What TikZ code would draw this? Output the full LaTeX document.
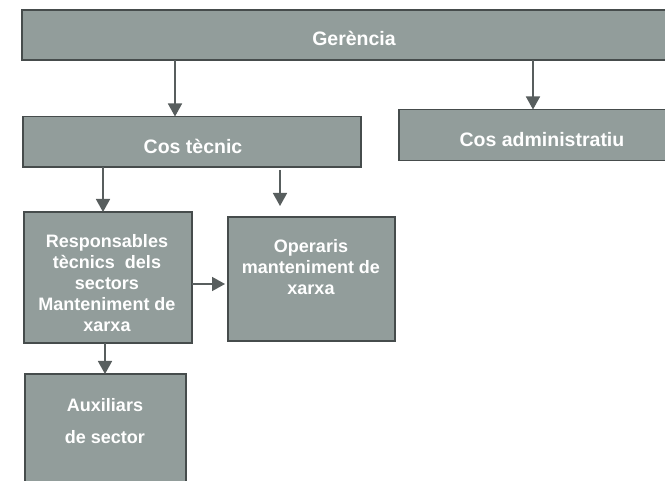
\documentclass[tikz,border=0pt]{standalone}
\usepackage{fontspec}
\setmainfont{Liberation Sans}
\usetikzlibrary{arrows.meta}
\definecolor{boxfill}{RGB}{146,157,155}
\definecolor{boxline}{RGB}{70,76,76}
\definecolor{arrowcol}{RGB}{88,94,94}
\tikzset{
  orgbox/.style={draw=boxline, line width=1.6pt, fill=boxfill},
  toptext/.style={text=white, font=\bfseries\fontsize{19.5}{23}\selectfont, inner sep=0pt, anchor=base},
  lowtext/.style={text=white, font=\bfseries\fontsize{18}{21}\selectfont, inner sep=0pt, anchor=north, align=center},
  conn/.style={draw=arrowcol, line width=1.6pt, -{Triangle[width=14pt,length=13pt]}}
}
\begin{document}
\begin{tikzpicture}[x=1pt,y=-1pt]
\useasboundingbox (0,0) rectangle (665,481);
\fill[white] (0,0) rectangle (665,481);
% boxes
\draw[orgbox] (22,10) rectangle (680,60);
\draw[orgbox] (23,116.5) rectangle (361,167);
\draw[orgbox] (399,109.5) rectangle (680,160.5);
\draw[orgbox] (24,212) rectangle (192,343);
\draw[orgbox] (228,217) rectangle (395,341);
\draw[orgbox] (25,374) rectangle (186,495);
% texts
\node[toptext] (ger) at (354,46) {Gerència};
\node[toptext] (costec) at (193,154) {Cos tècnic};
\node[toptext] (cosadm) at (542,147) {Cos administratiu};
\node[lowtext] (resp) at (107,234) {Responsables\\tècnics\ \ dels\\sectors\\Manteniment de\\xarxa};
\node[lowtext] (oper) at (311,239) {Operaris\\manteniment de\\xarxa};
\node[lowtext, font=\bfseries\fontsize{18}{32}\selectfont] (aux) at (105,398) {Auxiliars\\de sector};
% connector end points
\coordinate (g1) at (175,60);
\coordinate (ct) at (175,116.5);
\coordinate (g2) at (533,60);
\coordinate (ca) at (533,109.5);
\coordinate (c1) at (103,167);
\coordinate (r1) at (103,212);
\coordinate (c2) at (280,170);
\coordinate (o1) at (280,206);
\coordinate (r2) at (192,284);
\coordinate (o2) at (225,284);
\coordinate (r3) at (105,343);
\coordinate (a1) at (105,374);
\draw[conn] (g1) -- (ct);
\draw[conn] (g2) -- (ca);
\draw[conn] (c1) -- (r1);
\draw[conn] (c2) -- (o1);
\draw[conn] (r2) -- (o2);
\draw[conn] (r3) -- (a1);
\end{tikzpicture}
\end{document}
